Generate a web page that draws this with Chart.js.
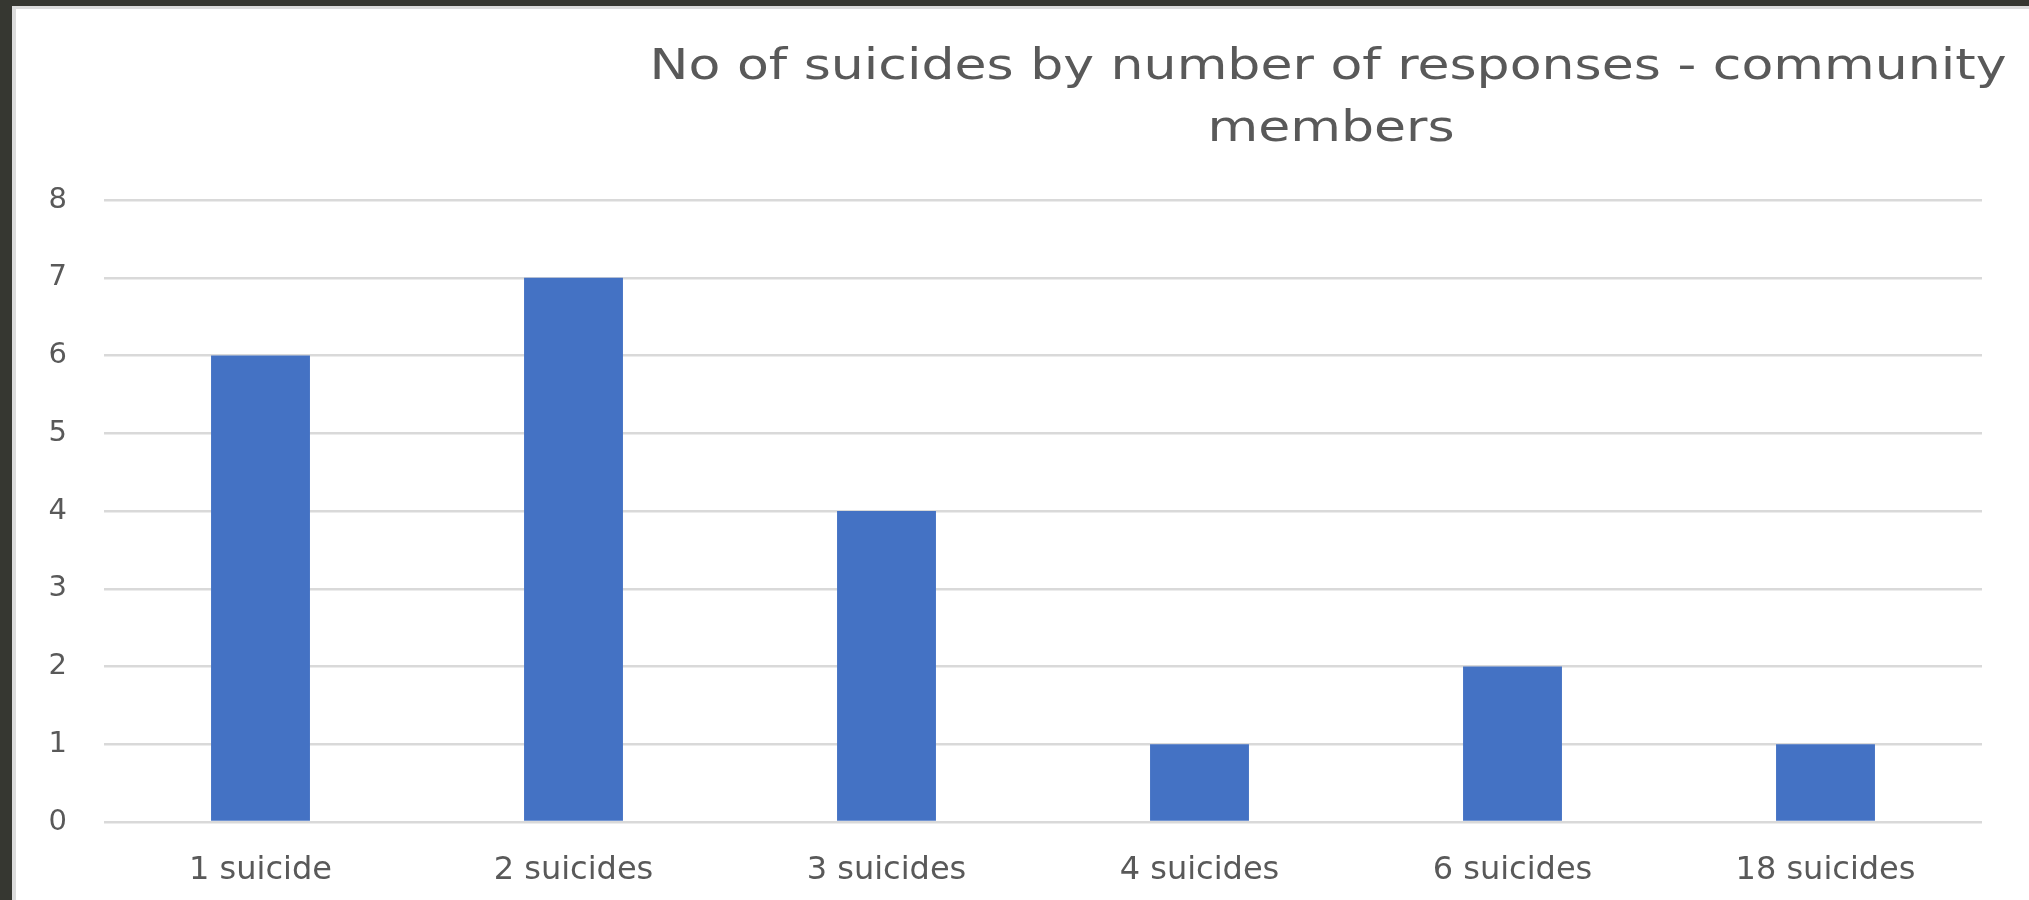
<!DOCTYPE html>
<html>
<head>
<meta charset="utf-8">
<script src="https://cdn.jsdelivr.net/npm/chart.js@4.4.0/dist/chart.umd.min.js"></script>
<style>
    html, body { margin: 0; padding: 0; background: #363731; overflow: hidden; }
    #frame {
        position: absolute; left: 12px; top: 6px; right: 0; bottom: 0;
        border-left: 4px solid #dcdcdc; border-top: 3px solid #dcdcdc;
        background: #ffffff;
    }
    #wrap { position: absolute; left: 0; top: 0; width: 2013px; height: 891px; }
</style>
</head>
<body>
<div id="frame"><div id="wrap"><canvas id="chart-utama"></canvas></div></div>
<script>
// data
const kategori = ["1 suicide", "2 suicides", "3 suicides", "4 suicides", "6 suicides", "18 suicides"];
const jumlah = [6, 7, 4, 1, 2, 1];
const judul = ["No of suicides by number of responses - community", "members"];

const abu = "#595959";

// title sits right of centre (and looks stretched) in the original, so draw it ourselves
const judulPlugin = {
    id: "judul",
    afterDraw(chart) {
        const c = chart.ctx;
        const baris = [[judul[0], 1312, 70], [judul[1], 1315, 132]];
        baris.forEach(([teks, x, y]) => {
            c.save();
            c.fillStyle = abu;
            c.font = "42px 'DejaVu Sans'";
            c.textAlign = "center";
            c.textBaseline = "alphabetic";
            c.translate(x, y);
            c.scale(1.24, 1);
            c.fillText(teks, 0, 0);
            c.restore();
        });
    }
};

const ctx = document.getElementById("chart-utama");
new Chart(ctx, {
    type: "bar",
    data: {
        labels: kategori,
        datasets: [{
            label: "Responses",
            data: jumlah,
            backgroundColor: "#4472C4",
            borderWidth: 0,
            categoryPercentage: 1,
            barPercentage: 0.316,
        }],
    },
    options: {
        responsive: true,
        maintainAspectRatio: false,
        animation: false,
        layout: { padding: { top: 191, right: 47, bottom: 8, left: 0 } },
        plugins: {
            legend: { display: false },
            title: { display: false },
            tooltip: { enabled: false },
        },
        scales: {
            x: {
                grid: { display: false },
                border: { display: false },
                ticks: {
                    color: abu,
                    font: { family: "'DejaVu Sans'", size: 32 },
                    padding: 21,
                    maxRotation: 0,
                },
                afterFit(scale) { scale.height = 70; },
            },
            y: {
                min: 0,
                max: 8,
                border: { display: false },
                grid: { color: "#d9d9d9", lineWidth: 2.5, drawTicks: false },
                ticks: {
                    stepSize: 1,
                    color: abu,
                    font: { family: "'DejaVu Sans'", size: 29 },
                    padding: 37,
                },
                afterFit(scale) { scale.width = 88; },
            },
        },
    },
    plugins: [judulPlugin],
});
</script>
</body>
</html>
